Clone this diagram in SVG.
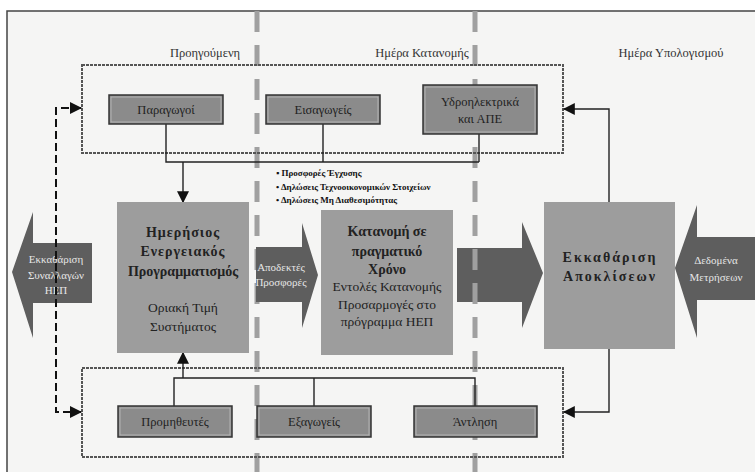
<svg xmlns="http://www.w3.org/2000/svg" width="755" height="472" viewBox="0 0 755 472" font-family="'Liberation Serif', 'DejaVu Serif', serif">
<defs>
<style>
text{font-family:'Liberation Serif','DejaVu Serif',serif;fill:#222;text-anchor:middle}
.hdr{font-size:12.5px;fill:#333}
.sm{font-size:12.5px}
.big{font-size:14px;font-weight:bold}
.sp1{letter-spacing:1px}
.sp2{letter-spacing:2px}
.mid{font-size:13.5px}
.arr{fill:#5e5e5e}
.at{font-size:11px;fill:#e6e6e6}
.bul{font-size:9px;font-weight:bold;text-anchor:start;fill:#111}
.sbox{fill:#8b8b8b;stroke:#333;stroke-width:1.5}
.inner{fill:none;stroke:#bdbdbd;stroke-width:0.8}
.lbox{fill:#9d9d9d}
.dot{fill:none;stroke:#555;stroke-width:2;stroke-dasharray:3 1}
.gdash{stroke:#a0a0a0;stroke-width:5;stroke-dasharray:21 13}
.ln{fill:none;stroke:#222;stroke-width:1.4}
.bdash{fill:none;stroke:#111;stroke-width:2;stroke-dasharray:8 4}
</style>
<marker id="ahb" viewBox="0 0 10 10" refX="9" refY="5" markerWidth="12" markerHeight="12" markerUnits="userSpaceOnUse" orient="auto">
<path d="M0,0 L10,5 L0,10 z" fill="#111"/>
</marker>
</defs>
<rect width="755" height="472" fill="#ffffff"/>
<rect x="7" y="11" width="760" height="470" fill="#f5f5f4" stroke="#444" stroke-width="1.5"/>

<g id="arrow-dispatch-settlement">
<path class="arr" d="M457,248 L522,248 L522,222 L543,273 L522,328 L522,302 L457,302 z"/>
</g>

<g id="dividers">
<line class="gdash" x1="257" y1="11" x2="257" y2="472"/>
<line class="gdash" x1="475" y1="11" x2="475" y2="472"/>
</g>

<g id="headers">
<text class="hdr" x="205" y="57">Προηγούμενη</text>
<text class="hdr" x="422" y="57">Ημέρα Κατανομής</text>
<text class="hdr" x="671" y="57">Ημέρα Υπολογισμού</text>
</g>

<g id="top-group">
<rect class="dot" x="82" y="65" width="481" height="88"/>
</g>
<g id="bottom-group">
<rect class="dot" x="82" y="368" width="481" height="89"/>
</g>

<g id="connectors">
<polyline class="ln" points="166,124 166,162 479,162"/>
<line class="ln" x1="323" y1="124" x2="323" y2="162"/>
<line class="ln" x1="479" y1="134" x2="479" y2="162"/>
<line class="ln" x1="183" y1="162" x2="183" y2="202" marker-end="url(#ahb)"/>
<polyline class="ln" points="174,406 174,378 475,378 475,406"/>
<line class="ln" x1="314" y1="378" x2="314" y2="406"/>
<line class="ln" x1="183" y1="378" x2="183" y2="353" marker-end="url(#ahb)"/>
<polyline class="ln" points="609,202 609,109 564,109" marker-end="url(#ahb)"/>
<polyline class="ln" points="609,349 609,412 564,412" marker-end="url(#ahb)"/>
</g>

<g id="producers">
<rect class="sbox" x="109" y="95" width="114" height="29"/>
<rect class="inner" x="111" y="97" width="110" height="25"/>
<text class="sm" x="166" y="114">Παραγωγοί</text>
</g>
<g id="imports">
<rect class="sbox" x="266" y="95" width="114" height="29"/>
<rect class="inner" x="268" y="97" width="110" height="25"/>
<text class="sm" x="323" y="114">Εισαγωγείς</text>
</g>
<g id="hydro-res">
<rect class="sbox" x="423" y="85" width="114" height="49"/>
<rect class="inner" x="425" y="87" width="110" height="45"/>
<text class="sm" x="480" y="106">Υδροηλεκτρικά</text>
<text class="sm" x="480" y="123">και ΑΠΕ</text>
</g>

<g id="bullets">
<text class="bul" x="276" y="176">▪ Προσφορές Έγχυσης</text>
<text class="bul" x="276" y="190">• Δηλώσεις Τεχνοοικονομικών Στοιχείων</text>
<text class="bul" x="276" y="203">• Δηλώσεις Μη Διαθεσιμότητας</text>
</g>

<g id="day-ahead">
<rect class="lbox" x="117" y="202" width="132" height="151"/>
<text class="big sp1" x="183" y="237">Ημερήσιος</text>
<text class="big sp1" x="183" y="256">Ενεργειακός</text>
<text class="big" x="183" y="276">Προγραμματισμός</text>
<text class="mid" x="183" y="312">Οριακή Τιμή</text>
<text class="mid" x="183" y="331">Συστήματος</text>
</g>
<g id="real-time">
<rect class="lbox" x="321" y="210" width="132" height="145"/>
<text class="big" x="387" y="236">Κατανομή σε</text>
<text class="big" x="387" y="256">πραγματικό</text>
<text class="big" x="387" y="274">Χρόνο</text>
<text class="mid" x="387" y="291">Εντολές Κατανομής</text>
<text class="mid" x="387" y="309">Προσαρμογές στο</text>
<text class="mid" x="387" y="326">πρόγραμμα ΗΕΠ</text>
</g>
<g id="imbalance">
<rect class="lbox" x="544" y="202" width="131" height="147"/>
<text class="big sp2" x="610" y="262">Εκκαθάριση</text>
<text class="big sp2" x="610" y="281">Αποκλίσεων</text>
</g>

<g id="accepted-offers">
<path class="arr" d="M256,247 L302,247 L302,223 L318,275 L302,328 L302,302 L256,302 z"/>
<text class="at" x="281" y="271">Αποδεκτές</text>
<text class="at" x="281" y="286">Προσφορές</text>
</g>
<g id="settlement-dam">
<path class="arr" d="M92,243 L33,243 L33,212 L12,272 L33,338 L33,303 L92,303 z"/>
<text class="at" x="56" y="263">Εκκαθάριση</text>
<text class="at" x="56" y="279">Συναλλαγών</text>
<text class="at" x="56" y="294">ΗΕΠ</text>
</g>
<g id="metering">
<path class="arr" d="M755,237 L697,237 L697,205 L675,268 L697,338 L697,300 L755,300 z"/>
<text class="at" x="716" y="264">Δεδομένα</text>
<text class="at" x="716" y="281">Μετρήσεων</text>
</g>

<g id="feedback">
<polyline class="bdash" points="81,108 56,108 56,412 81,412"/>
<path d="M70,102 L82,108 L70,114 z" fill="#111"/>
<path d="M70,406 L82,412 L70,418 z" fill="#111"/>
</g>

<g id="suppliers">
<rect class="sbox" x="118" y="406" width="114" height="31"/>
<rect class="inner" x="120" y="408" width="110" height="27"/>
<text class="sm" x="175" y="426">Προμηθευτές</text>
</g>
<g id="exports">
<rect class="sbox" x="257" y="406" width="114" height="31"/>
<rect class="inner" x="259" y="408" width="110" height="27"/>
<text class="sm" x="314" y="426">Εξαγωγείς</text>
</g>
<g id="pumping">
<rect class="sbox" x="414" y="406" width="123" height="31"/>
<rect class="inner" x="416" y="408" width="119" height="27"/>
<text class="sm" x="475" y="426">Άντληση</text>
</g>
</svg>
